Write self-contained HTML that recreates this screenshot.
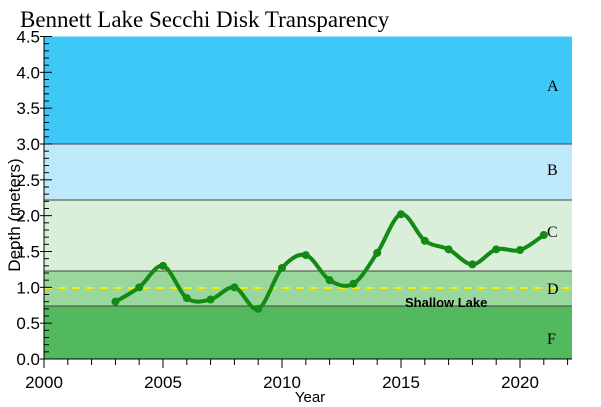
<!DOCTYPE html><html><head><style>body{margin:0;background:#fff}svg{display:block}</style></head><body>
<svg id="s" width="601" height="407" xmlns="http://www.w3.org/2000/svg" font-family="Liberation Sans, sans-serif">
<text x="20" y="27" font-family="Liberation Serif, serif" font-size="23">Bennett Lake Secchi Disk Transparency</text>
<rect x="44" y="36.5" width="528" height="107.5" fill="#3ec8f8"/>
<rect x="44" y="144" width="528" height="56" fill="#bde9fb"/>
<rect x="44" y="200" width="528" height="71" fill="#d9efd9"/>
<rect x="44" y="271" width="528" height="35" fill="#9ad79c"/>
<rect x="44" y="306" width="528" height="53" fill="#52b95e"/>
<g stroke="#444" stroke-width="1"><line x1="44" y1="144" x2="572" y2="144"/><line x1="44" y1="200" x2="572" y2="200"/><line x1="44" y1="271" x2="572" y2="271"/><line x1="44" y1="306" x2="572" y2="306"/></g>
<line x1="44" y1="288" x2="572" y2="288" stroke="#f0f000" stroke-width="2" stroke-dasharray="8,6"/>
<g font-family="Liberation Serif, serif" font-size="16"><text x="547" y="91">A</text><text x="547" y="175">B</text><text x="547" y="237">C</text><text x="547" y="294">D</text><text x="547" y="344">F</text></g>
<text x="405" y="307" font-size="13" font-weight="bold">Shallow Lake</text>
<g id="ax" stroke="#000" fill="none"></g>
<g id="lab" font-size="17" fill="#000"></g>
<text x="310" y="402" font-size="15" text-anchor="middle">Year</text>
<text transform="translate(20,215) rotate(-90)" font-size="17" text-anchor="middle">Depth (meters)</text>
<path id="curve" fill="none" stroke="#138a13" stroke-width="4"/>
<g id="pts" fill="#138a13"></g>
</svg>
<script>
const X=y=>44+(y-2000)*23.8, Y=v=>359-v*71.67, ns="http://www.w3.org/2000/svg";
function el(t,a,p,txt){const e=document.createElementNS(ns,t);for(const k in a)e.setAttribute(k,a[k]);if(txt)e.textContent=txt;document.getElementById(p).appendChild(e);}
el('line',{x1:44,y1:36,x2:44,y2:359},'ax');el('line',{x1:44,y1:359,x2:572,y2:359},'ax');
for(let i=0;i<=45;i++){const v=i/10,y=Y(v),maj=i%5==0;el('line',{x1:maj?40:44,y1:y,x2:maj?52:49,y2:y},'ax');if(maj)el('text',{x:40,y:y+6,'text-anchor':'end'},'lab',v.toFixed(1));}
for(let yr=2000;yr<=2022;yr++){const x=X(yr);el('line',{x1:x,y1:359,x2:x,y2:yr%5==0?368:365},'ax');if(yr%5==0)el('text',{x:x,y:388,'text-anchor':'middle'},'lab',yr);}
const d=[[2003,.8],[2004,1],[2005,1.3],[2006,.85],[2007,.83],[2008,1],[2009,.7],[2010,1.27],[2011,1.45],[2012,1.1],[2013,1.05],[2014,1.48],[2015,2.02],[2016,1.65],[2017,1.53],[2018,1.32],[2019,1.53],[2020,1.52],[2021,1.73]].map(p=>[X(p[0]),Y(p[1])]);
let s="M"+d[0];for(let i=0;i<d.length-1;i++){const p0=d[i-1]||d[i],p1=d[i],p2=d[i+1],p3=d[i+2]||p2;s+=`C${p1[0]+(p2[0]-p0[0])/6},${p1[1]+(p2[1]-p0[1])/6} ${p2[0]-(p3[0]-p1[0])/6},${p2[1]-(p3[1]-p1[1])/6} ${p2[0]},${p2[1]}`;}
document.getElementById('curve').setAttribute('d',s);
d.forEach(p=>el('circle',{cx:p[0],cy:p[1],r:4},'pts'));
</script></body></html>
